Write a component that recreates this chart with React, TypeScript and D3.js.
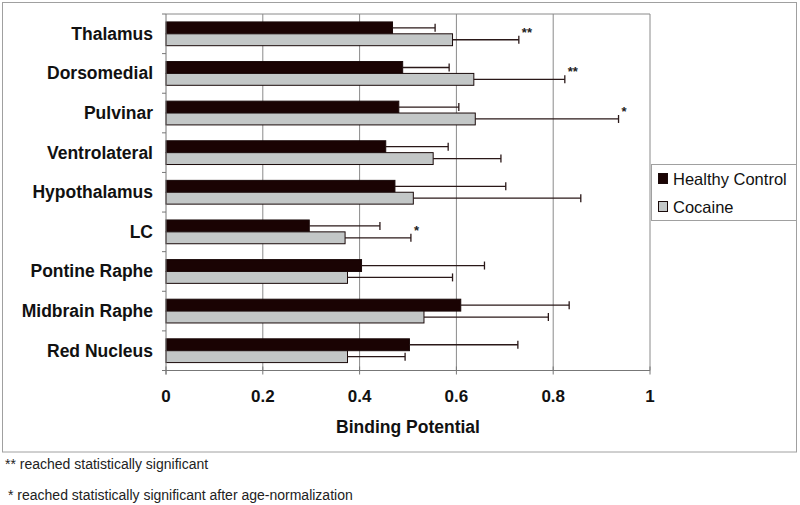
import React from "react";
import * as d3 from "d3";

const categories = ["Thalamus", "Dorsomedial", "Pulvinar", "Ventrolateral", "Hypothalamus", "LC", "Pontine Raphe", "Midbrain Raphe", "Red Nucleus"];
const healthyValues = [0.468, 0.489, 0.481, 0.454, 0.473, 0.296, 0.404, 0.609, 0.503];
const healthyErrEnd = [0.556, 0.585, 0.605, 0.583, 0.702, 0.442, 0.658, 0.833, 0.727];
const cocaineValues = [0.592, 0.636, 0.639, 0.552, 0.511, 0.370, 0.375, 0.533, 0.375];
const cocaineErrEnd = [0.729, 0.824, 0.935, 0.692, 0.857, 0.506, 0.592, 0.790, 0.494];
const significance = ["**", "**", "*", "", "", "*", "", "", ""];
const xTicks = [0, 0.2, 0.4, 0.6, 0.8, 1];
const seriesNames = ["Healthy Control", "Cocaine"];
const seriesColors = ["#1a0303", "#c3c7c7"];

export default function App() {
  const W = 800, H = 505;
  const left = 166, right = 650, top = 14, bottom = 370.5;
  const x = d3.scaleLinear().domain([0, 1]).range([left, right]);
  const y = d3.scaleBand<string>().domain(categories).range([top, bottom]).paddingInner(0.4).paddingOuter(0.2);
  const inner = d3.scaleBand<string>().domain(seriesNames).range([0, y.bandwidth()]);
  const font = "Arial, 'Liberation Sans', sans-serif";
  const errColor = "#2a1818";
  const step = (bottom - top) / categories.length;

  const series = [
    { vals: healthyValues, errs: healthyErrEnd },
    { vals: cocaineValues, errs: cocaineErrEnd },
  ];

  return (
    <svg width={W} height={H} style={{ position: "absolute", left: 0, top: 0, background: "#fff" }}>
      <rect x={2.5} y={2.5} width={794} height={449.5} fill="#fff" stroke="#a0a0a0" strokeWidth={1} />
      {/* gridlines */}
      {xTicks.slice(1, -1).map((t) => (
        <line key={t} x1={x(t)} x2={x(t)} y1={top} y2={bottom} stroke="#8a8a8a" strokeWidth={1} />
      ))}
      {/* plot border top and right */}
      <path d={`M${left},${top}H${right}V${bottom}`} fill="none" stroke="#8a8a8a" strokeWidth={1} />
      {/* bars */}
      {categories.map((c, i) => (
        <g key={c}>
          {series.map((s, j) => {
            const by = (y(c) as number) + (inner(seriesNames[j]) as number);
            const bh = inner.bandwidth();
            const cy = by + bh / 2;
            return (
              <g key={j}>
                <rect x={x(0)} y={by} width={x(s.vals[i]) - x(0)} height={bh} fill={seriesColors[j]} stroke="#1a0a0a" strokeWidth={1} />
                <line x1={x(s.vals[i])} x2={x(s.errs[i])} y1={cy} y2={cy} stroke={errColor} strokeWidth={1.3} />
                <line x1={x(s.errs[i])} x2={x(s.errs[i])} y1={cy - 4} y2={cy + 4} stroke={errColor} strokeWidth={1.3} />
                {j === 1 && significance[i] && (
                  <text x={x(s.errs[i]) + 3} y={cy - 3} fontFamily={font} fontSize={13} fontWeight="bold" fill="#222">
                    {significance[i]}
                  </text>
                )}
              </g>
            );
          })}
        </g>
      ))}
      {/* left axis */}
      <line x1={left} x2={left} y1={top} y2={bottom + 4} stroke="#777" strokeWidth={1} />
      {d3.range(categories.length + 1).map((k) => (
        <line key={k} x1={left - 4} x2={left} y1={top + k * step} y2={top + k * step} stroke="#777" strokeWidth={1} />
      ))}
      {categories.map((c) => (
        <text key={c} x={153} y={(y(c) as number) + y.bandwidth() / 2 + 6} textAnchor="end" fontFamily={font} fontSize={17.5} fontWeight="bold" fill="#111">
          {c}
        </text>
      ))}
      {/* bottom axis */}
      <line x1={left - 1} x2={right} y1={bottom} y2={bottom} stroke="#777" strokeWidth={1} />
      {xTicks.map((t) => (
        <g key={t}>
          <line x1={x(t)} x2={x(t)} y1={bottom - 4} y2={bottom + 4} stroke="#777" strokeWidth={1} />
          <text x={x(t)} y={401.5} textAnchor="middle" fontFamily={font} fontSize={17} fontWeight="bold" fill="#111">
            {d3.format("~g")(t)}
          </text>
        </g>
      ))}
      <text x={(left + right) / 2} y={433} textAnchor="middle" fontFamily={font} fontSize={17.5} fontWeight="bold" fill="#111">
        Binding Potential
      </text>
      {/* legend */}
      <rect x={651.5} y={164.5} width={145} height={56} fill="#fff" stroke="#a0a0a0" strokeWidth={1} />
      {seriesNames.map((n, j) => (
        <g key={n}>
          <rect x={658.5} y={173.5 + j * 28} width={9} height={10} fill={seriesColors[j]} stroke="#1a0a0a" strokeWidth={1} />
          <text x={673} y={184.5 + j * 28} fontFamily={font} fontSize={16.5} fill="#111">
            {n}
          </text>
        </g>
      ))}
      {/* footnotes */}
      <text x={5} y={469} fontFamily={font} fontSize={14} fill="#222">** reached statistically significant</text>
      <text x={8} y={500} fontFamily={font} fontSize={14} fill="#222">* reached statistically significant after age-normalization</text>
    </svg>
  );
}
